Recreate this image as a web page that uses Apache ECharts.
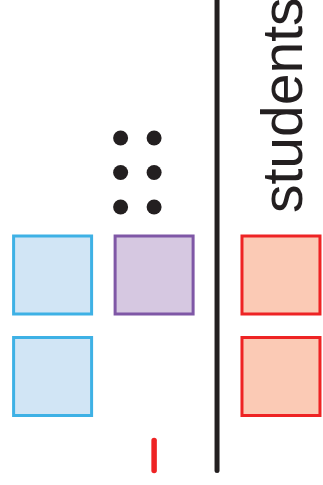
<!DOCTYPE html>
<html>
<head>
<meta charset="utf-8">
<script src="https://cdn.jsdelivr.net/npm/echarts@6/dist/echarts.min.js"></script>
<style>
  html, body { margin: 0; padding: 0; background: #fff; }
  #chart { width: 323px; height: 485px; }
</style>
</head>
<body>
<div id="chart"></div>
<script>
// positions in "cell" units (one cell = square + gap)
const blueSquares = [[0.4, 0.95], [0.4, 1.95]];
const purpleSquares = [[1.4, 1.95]];
const redSquares = [[2.65, 0.95], [2.65, 1.95]];
const dots = [[1.07, 2.62], [1.4, 2.62], [1.07, 2.96], [1.4, 2.96], [1.07, 3.3], [1.4, 3.3]];
const dividerLine = [[2.02, 0.025], [2.02, 4.66]];
const redTick = [[1.4, 0.025], [1.4, 0.32]];
const labelText = 'students';

const chart = echarts.init(document.getElementById('chart'));

function squareSeries(data, fill, border) {
    return {
        type: 'scatter',
        data: data,
        symbol: 'rect',
        symbolSize: 78,
        itemStyle: { color: fill, borderColor: border, borderWidth: 3, opacity: 1 },
        clip: false
    };
}

chart.setOption({
    animation: false,
    grid: { left: 12, right: 0, top: 0, bottom: 12 },
    xAxis: { type: 'value', min: 0, max: 3.064, show: false },
    yAxis: { type: 'value', min: 0, max: 4.66, show: false },
    series: [
        squareSeries(blueSquares, '#d1e5f5', '#3eb1e5'),
        squareSeries(purpleSquares, '#d6c8e1', '#7f57a6'),
        squareSeries(redSquares, '#fbcab5', '#ee2324'),
        {
            type: 'scatter',
            data: dots,
            symbol: 'circle',
            symbolSize: 15,
            itemStyle: { color: '#231f20', opacity: 1 }
        },
        {
            type: 'line',
            data: dividerLine,
            symbol: 'none',
            lineStyle: { color: '#231f20', width: 5, cap: 'round' }
        },
        {
            type: 'line',
            data: redTick,
            symbol: 'none',
            lineStyle: { color: '#ee2324', width: 5.5, cap: 'round' }
        }
    ],
    graphic: [{
        type: 'text',
        x: 315,
        y: 213,
        rotation: Math.PI / 2,
        style: {
            text: labelText,
            fontFamily: 'Liberation Sans',
            fontSize: 57,
            fill: '#231f20',
            textAlign: 'left',
            textVerticalAlign: 'bottom'
        }
    }]
});
</script>
</body>
</html>
